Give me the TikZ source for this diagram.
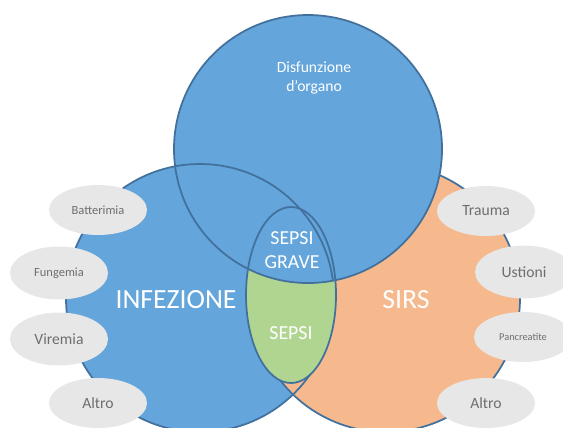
\documentclass[tikz,border=0pt]{standalone}
\usepackage{fontspec}
\setmainfont{Carlito}
\usetikzlibrary{shapes.geometric}

\definecolor{vennblue}{HTML}{64A5DB}
\definecolor{vennorange}{HTML}{F6B98E}
\definecolor{venngreen}{HTML}{B0D591}
\definecolor{vennline}{HTML}{41719C}
\definecolor{causegray}{HTML}{E7E7E7}
\definecolor{causetext}{HTML}{6E6E6E}

\tikzset{
  set/.style={line width=1pt,draw=vennline},
  cause/.style={ellipse,fill=causegray,text=causetext,inner sep=0pt,
    minimum width=1.96cm,minimum height=1.0cm},
  bigtxt/.style={text=white,font=\fontsize{15.8}{18}\selectfont},
  midtxt/.style={text=white,font=\fontsize{11.3}{13.5}\selectfont,align=center},
}

\begin{document}
\begin{tikzpicture}[x=0.02cm,y=-0.02cm]
  \useasboundingbox (0,0) rectangle (563,427);
  % the three sets
  \fill[vennblue]   (200,298) circle [radius=134];
  \fill[vennorange] (386,298) circle [radius=134];
  \draw[set] (200,298) circle [radius=134];
  \draw[set] (386,298) circle [radius=134];
  \fill[vennblue] (308,149) circle [radius=134];
  % sepsi / sepsi grave
  \fill[venngreen] (291,295) ellipse [x radius=45,y radius=88];
  \begin{scope}
    \clip (308,149) circle [radius=134];
    \fill[vennblue] (291,295) ellipse [x radius=45,y radius=88];
  \end{scope}
  \draw[set] (291,295) ellipse [x radius=45,y radius=88];
  \draw[set] (308,149) circle [radius=134];
  \begin{scope}
    \clip (308,149) circle [radius=134];
    \draw[set] (200,298) circle [radius=134];
  \end{scope}
  % labels of the sets
  \node[text=white,align=center,font=\fontsize{8.9}{11.3}\selectfont]
    (organo) at (314,78) {Disfunzione\\d’organo};
  \node[bigtxt] (infezione) at (176,300) {INFEZIONE};
  \node[bigtxt] (sirs)      at (406,300) {SIRS};
  \node[midtxt] (grave)     at (292,250) {SEPSI\\GRAVE};
  \node[midtxt] (sepsi)     at (291,333) {SEPSI};
  % causes, left
  \node[cause,font=\fontsize{7.1}{8}\selectfont] (batt) at (98,210)  {Batterimia};
  \node[cause,font=\fontsize{7.1}{8}\selectfont,minimum height=1.06cm] (fung) at (59,273) {Fungemia};
  \node[cause,font=\fontsize{8.9}{10}\selectfont,minimum height=1.06cm] (vire) at (59,339) {Viremia};
  \node[cause,font=\fontsize{8.9}{10}\selectfont] (altroL) at (98,403) {Altro};
  % causes, right
  \node[cause,font=\fontsize{8.9}{10}\selectfont] (trauma) at (486,211) {Trauma};
  \node[cause,font=\fontsize{8.9}{10}\selectfont,minimum height=1.06cm] (ust) at (524,272) {Ustioni};
  \node[cause,font=\fontsize{5.9}{7}\selectfont] (pancr) at (523,337) {Pancreatite};
  \node[cause,font=\fontsize{8.9}{10}\selectfont] (altroR) at (486,403) {Altro};
\end{tikzpicture}
\end{document}
